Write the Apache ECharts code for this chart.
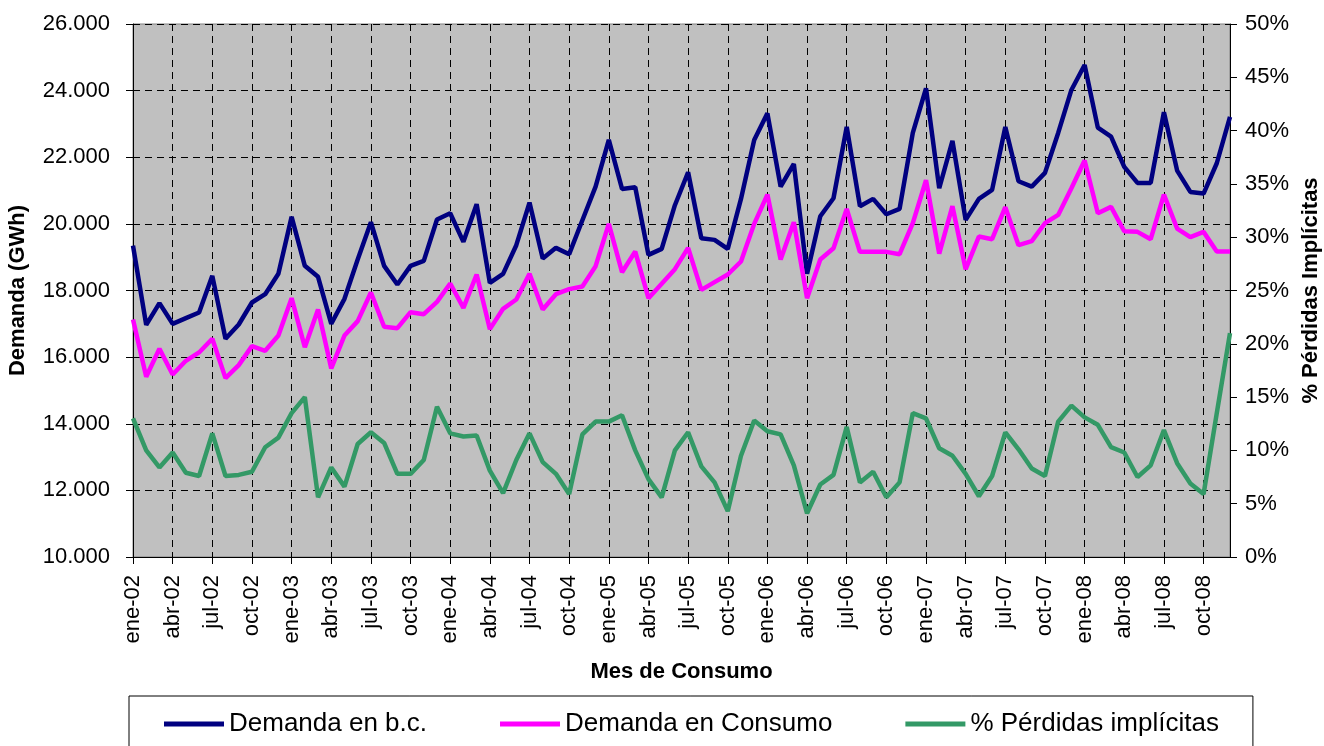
<!DOCTYPE html>
<html>
<head>
<meta charset="utf-8">
<script src="https://cdn.jsdelivr.net/npm/echarts@6/dist/echarts.min.js"></script>
<style>
  html, body { margin: 0; padding: 0; background: #fff; }
  #chart { width: 1324px; height: 746px; }
</style>
</head>
<body>
<div id="chart"></div>
<script>
// meses ene-02 .. dic-08
var meses = ['ene', 'feb', 'mar', 'abr', 'may', 'jun', 'jul', 'ago', 'sep', 'oct', 'nov', 'dic'];
var anios = ['02', '03', '04', '05', '06', '07', '08'];

// Demanda en barras de central (GWh)
var demandaBC = [
  19350, 16970, 17620, 17000, 17170, 17340, 18440, 16550, 16980, 17640, 17890, 18500,
  20210, 18740, 18410, 17000, 17750, 18930, 20050, 18740, 18180, 18740, 18890, 20130,
  20320, 19460, 20590, 18230, 18500, 19360, 20640, 18960, 19280, 19090, 20110, 21120,
  22520, 21050, 21100, 19070, 19250, 20560, 21550, 19570, 19520, 19250, 20750, 22520,
  23320, 21120, 21800, 18500, 20230, 20770, 22910, 20530, 20750, 20290, 20450, 22730,
  24070, 21070, 22490, 20120, 20750, 21020, 22910, 21280, 21120, 21530, 22730, 24020,
  24770, 22890, 22620, 21710, 21230, 21230, 23350, 21600, 20960, 20910, 21820, 23210
];

// Demanda en consumo (GWh)
var demandaConsumo = [
  17130, 15410, 16250, 15480, 15890, 16140, 16550, 15370, 15760, 16330, 16190, 16650,
  17770, 16300, 17430, 15660, 16650, 17080, 17940, 16910, 16870, 17350, 17290, 17660,
  18210, 17480, 18480, 16840, 17450, 17730, 18500, 17430, 17890, 18040, 18120, 18730,
  20000, 18550, 19170, 17770, 18200, 18640, 19280, 18020, 18250, 18480, 18870, 20000,
  20880, 18930, 20050, 17770, 18930, 19270, 20450, 19160, 19160, 19160, 19090, 20020,
  21310, 19110, 20530, 18640, 19620, 19540, 20500, 19360, 19480, 20020, 20270, 21070,
  21900, 20320, 20510, 19780, 19760, 19540, 20880, 19860, 19600, 19760, 19170, 19170
];

// % perdidas implicitas
var perdidas = [
  13.0, 10.0, 8.4, 9.8, 7.9, 7.6, 11.6, 7.6, 7.7, 8.0, 10.3, 11.2,
  13.5, 15.0, 5.6, 8.4, 6.6, 10.6, 11.7, 10.7, 7.8, 7.8, 9.1, 14.1,
  11.6, 11.3, 11.4, 8.1, 6.0, 9.1, 11.6, 8.9, 7.8, 5.9, 11.5, 12.7,
  12.7, 13.3, 10.0, 7.3, 5.6, 10.0, 11.7, 8.5, 7.0, 4.3, 9.5, 12.8,
  11.8, 11.5, 8.6, 4.1, 6.8, 7.7, 12.2, 7.0, 8.0, 5.6, 7.0, 13.5,
  13.0, 10.2, 9.5, 7.8, 5.7, 7.6, 11.7, 10.1, 8.3, 7.6, 12.7, 14.2,
  13.1, 12.4, 10.3, 9.8, 7.5, 8.6, 11.9, 8.8, 6.9, 5.9, 13.5, 21.0
];

var categorias = [];
anios.forEach(function (a) {
  meses.forEach(function (m) { categorias.push(m + '-' + a); });
});

var fuente = '"Liberation Sans", Arial, sans-serif';
var dashed = { color: '#000', width: 1, type: [7, 5] };

var chart = echarts.init(document.getElementById('chart'));
chart.setOption({
  animation: false,
  textStyle: { fontFamily: fuente },
  grid: {
    left: 133, right: 94, top: 24, bottom: 189,
    outerBoundsMode: 'none',
    show: true, backgroundColor: '#c0c0c0', borderColor: '#808080', borderWidth: 1
  },
  legend: {
    left: 129, top: 696,
    padding: [15, 34, 40, 35],
    borderColor: '#000', borderWidth: 1,
    icon: 'rect', itemWidth: 60, itemHeight: 5, itemGap: 73,
    textStyle: { fontSize: 26, color: '#000', fontFamily: fuente },
    data: ['Demanda en b.c.', 'Demanda en Consumo', '% Pérdidas implícitas']
  },
  xAxis: {
    type: 'category',
    data: categorias,
    boundaryGap: false,
    name: 'Mes de Consumo',
    nameLocation: 'middle',
    nameGap: 104,
    nameTextStyle: { fontSize: 22, fontWeight: 'bold', color: '#000', fontFamily: fuente },
    axisLine: { lineStyle: { color: '#000', width: 1 } },
    axisTick: { show: true, interval: 2, length: 7, lineStyle: { color: '#000' } },
    axisLabel: { interval: 2, rotate: 90, margin: 18, fontSize: 22, color: '#000', fontFamily: fuente },
    splitLine: { show: true, interval: 2, lineStyle: dashed }
  },
  yAxis: [
    {
      type: 'value',
      min: 10000, max: 26000, interval: 2000,
      name: 'Demanda (GWh)',
      nameLocation: 'middle',
      nameRotate: 90,
      nameGap: 104,
      nameTextStyle: { fontSize: 22, fontWeight: 'bold', color: '#000', fontFamily: fuente },
      axisLine: { show: true, lineStyle: { color: '#000', width: 1 } },
      axisTick: { show: true, length: 7, lineStyle: { color: '#000' } },
      axisLabel: {
        margin: 23, fontSize: 22, color: '#000', fontFamily: fuente,
        formatter: function (v) { return (v / 1000).toFixed(3); }
      },
      splitLine: { show: true, lineStyle: dashed }
    },
    {
      type: 'value',
      min: 0, max: 50, interval: 5,
      position: 'right',
      name: '% Pérdidas Implícitas',
      nameLocation: 'middle',
      nameRotate: 90,
      nameGap: 69,
      nameTextStyle: { fontSize: 22, fontWeight: 'bold', color: '#000', fontFamily: fuente },
      axisLine: { show: true, lineStyle: { color: '#000', width: 1 } },
      axisTick: { show: true, length: 7, lineStyle: { color: '#000' } },
      axisLabel: {
        margin: 15, fontSize: 22, color: '#000', fontFamily: fuente,
        formatter: function (v) { return v + '%'; }
      },
      splitLine: { show: false }
    }
  ],
  series: [
    {
      name: 'Demanda en b.c.',
      type: 'line',
      data: demandaBC,
      symbol: 'none',
      itemStyle: { color: '#000080' },
      lineStyle: { color: '#000080', width: 4.5 }
    },
    {
      name: 'Demanda en Consumo',
      type: 'line',
      data: demandaConsumo,
      symbol: 'none',
      itemStyle: { color: '#ff00ff' },
      lineStyle: { color: '#ff00ff', width: 4.5 }
    },
    {
      name: '% Pérdidas implícitas',
      type: 'line',
      yAxisIndex: 1,
      data: perdidas,
      symbol: 'none',
      itemStyle: { color: '#339966' },
      lineStyle: { color: '#339966', width: 4.5 }
    }
  ]
});
</script>
</body>
</html>
